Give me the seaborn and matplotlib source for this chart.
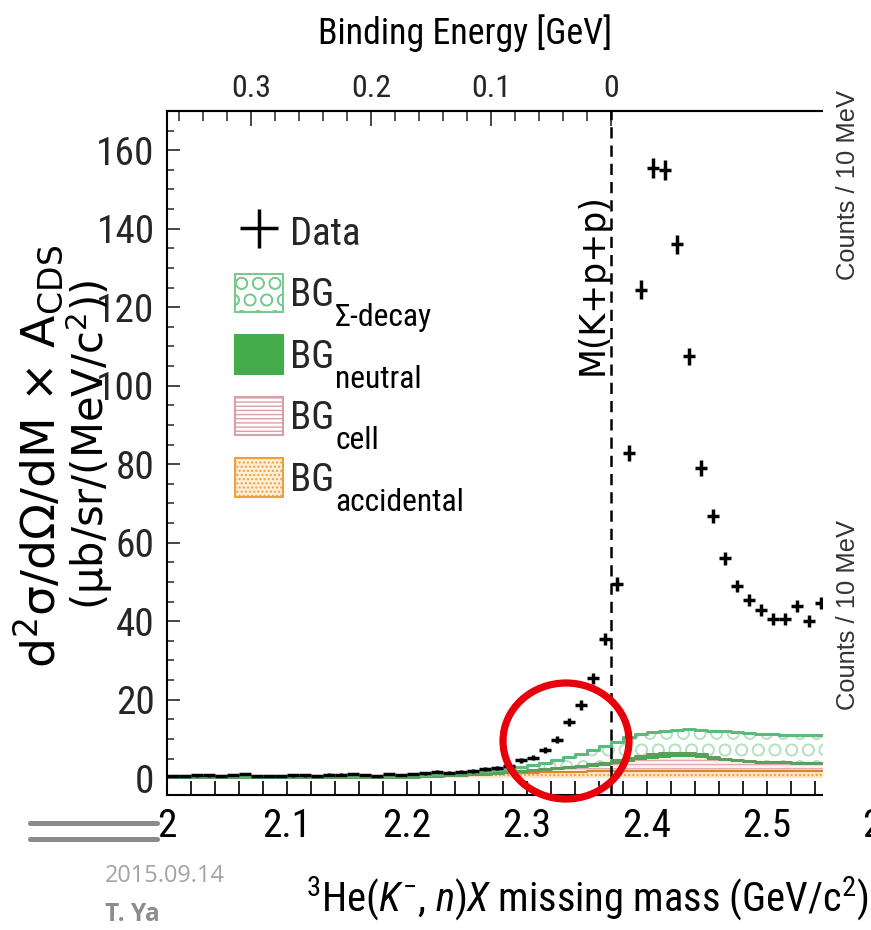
import numpy as np
import pandas as pd
import seaborn as sns
import matplotlib
matplotlib.use("Agg")
import matplotlib.pyplot as plt
from matplotlib.patches import Patch, Ellipse, Rectangle
from matplotlib.lines import Line2D
from matplotlib.ticker import MultipleLocator, FixedLocator, FuncFormatter
from matplotlib import font_manager
from matplotlib.font_manager import FontEntry

# ---------------- data ----------------
mass_low = 2.0
bin_width = 0.01
n_bins = 55
threshold_mass = 2.370  # M(K+p+p)

data_values = [0.6, 0.5, 0.7, 0.7, 0.6, 0.8, 1.1, 0.5, 0.6, 0.6,
               0.7, 0.7, 0.6, 0.9, 0.9, 1.0, 0.8, 0.6, 1.0, 0.8,
               1.0, 1.2, 1.6, 1.4, 1.6, 1.8, 2.3, 2.5, 3.0, 4.5,
               5.2, 7.2, 9.8, 14.2, 18.6, 25.5, 35.5, 49.4, 82.8, 124.5,
               155.5, 155.0, 136.0, 107.5, 79.0, 66.8, 56.0, 49.0, 45.4, 42.8,
               40.5, 40.5, 43.8, 40.0, 44.6]
data_errors = [0.3] * 20 + [0.3, 0.35, 0.35, 0.35, 0.4, 0.4, 0.45, 0.5, 0.5, 0.6,
                            0.7, 0.8, 0.9, 1.0, 1.2, 1.4, 1.6, 1.8, 2.1, 2.4,
                            2.6, 2.6, 2.5, 2.2, 2.0, 1.8, 1.7, 1.6, 1.6, 1.5,
                            1.5, 1.5, 1.5, 1.5, 1.5]
# stacked tops of the background components
acc_top = [0.3] * 20 + [0.4, 0.5, 0.6, 0.7, 0.8, 0.9, 1.0, 1.1, 1.2, 1.3,
                        1.4, 1.5, 1.5, 1.6, 1.6, 1.7, 1.7, 1.8, 1.8, 1.8] + [1.9] * 15
cell_top = [0.3] * 20 + [0.4, 0.5, 0.6, 0.7, 0.8, 0.9, 1.0, 1.2, 1.4, 1.6,
                         1.8, 2.0, 2.1, 2.4, 2.6, 2.9, 3.2, 3.7, 4.2, 4.6,
                         5.0, 5.2, 5.3, 5.3, 5.1, 4.7, 4.3, 4.0, 3.8, 3.7,
                         3.6, 3.6, 3.5, 3.5, 3.5]
neutral_top = [0.3] * 20 + [0.4, 0.5, 0.6, 0.7, 0.8, 1.0, 1.15, 1.4, 1.65, 1.9,
                            2.15, 2.4, 2.55, 2.9, 3.15, 3.5, 3.9, 4.5, 5.2, 5.7,
                            6.2, 6.4, 6.5, 6.4, 6.1, 5.5, 4.9, 4.5, 4.25, 4.1,
                            4.1, 4.0, 3.9, 3.9, 3.9]
sigma_top = [0.45] * 20 + [0.8, 0.9, 1.0, 1.1, 1.3, 1.5, 1.8, 2.1, 2.4, 2.8,
                           3.3, 3.9, 4.6, 5.4, 6.2, 7.1, 8.2, 9.3, 10.6, 11.3,
                           11.8, 12.1, 12.3, 12.4, 12.3, 12.1, 11.9, 11.7, 11.5, 11.3,
                           11.2, 11.1, 11.0, 11.0, 10.9]

legend_labels = ["Data", "BG", "BG", "BG", "BG"]
legend_subscripts = ["", "Σ-decay", "neutral", "cell", "accidental"]

bin_centers = mass_low + bin_width * (np.arange(n_bins) + 0.5)
bin_edges = mass_low + bin_width * np.arange(n_bins + 1)

df = pd.DataFrame({"mass": bin_centers, "data": data_values, "err": data_errors,
                   "acc": acc_top, "cell": cell_top, "neutral": neutral_top,
                   "sigma": sigma_top})

# ---------------- fonts ----------------
sns.set_theme(style="white")
prefs = [("liberationsansnarrow-regular", "liberationsansnarrow-italic"),
         ("arialnarrow", "arialnarrowitalic"),
         ("robotocondensed-regular", "robotocondensed-italic"),
         ("notosans-condensed.", "notosans-condenseditalic."),
         ("notosans-condensed-regular", "notosans-condensed-italic"),
         ("opensans-condensed", "opensans-condenseditalic"),
         ("notosans-semicondensed.", "notosans-semicondenseditalic.")]
allfonts = font_manager.fontManager.ttflist
chosen_reg, chosen_it = None, None
for rk, ik in prefs:
    regs = [f for f in allfonts if rk in f.fname.lower().replace(" ", "")]
    if regs:
        chosen_reg = regs[0].fname
        its = [f for f in allfonts if ik in f.fname.lower().replace(" ", "")]
        chosen_it = its[0].fname if its else None
        break
if chosen_reg is None:
    conds = [f for f in allfonts if f.style == "normal" and
             f.stretch in ("condensed", "semi-condensed") and
             f.weight in (400, "normal", "regular")]
    if conds:
        chosen_reg = conds[0].fname
if chosen_reg is not None:
    allfonts.append(FontEntry(fname=chosen_reg, name="CondSans", style="normal",
                              variant="normal", weight=400, stretch="normal",
                              size="scalable"))
    if chosen_it is not None:
        allfonts.append(FontEntry(fname=chosen_it, name="CondSans", style="italic",
                                  variant="normal", weight=400, stretch="normal",
                                  size="scalable"))
    base = "CondSans"
else:
    base = "Liberation Sans"

plt.rcParams["font.family"] = [base, "Liberation Sans", "DejaVu Sans"]
plt.rcParams["mathtext.fontset"] = "custom"
plt.rcParams["mathtext.rm"] = base
plt.rcParams["mathtext.it"] = base + ":italic"
plt.rcParams["mathtext.bf"] = base + ":bold"
plt.rcParams["mathtext.sf"] = base
plt.rcParams["mathtext.default"] = "regular"
plt.rcParams["hatch.linewidth"] = 1.0

W, H = 871, 930
fig = plt.figure(figsize=(W / 100, H / 100), dpi=100)
fig.patch.set_facecolor("white")
renderer = fig.canvas.get_renderer()


def size_for(s, target_px, along="w", **kw):
    t = fig.text(0, 0, s, fontsize=30, **kw)
    bb = t.get_window_extent(renderer)
    t.remove()
    cur = bb.width if along == "w" else bb.height
    return 30 * target_px / cur


def fp(xpx, ypx):
    return xpx / W, 1 - ypx / H


ax = fig.add_axes([167 / W, 135 / H, 720 / W, 684 / H])
ax.set_facecolor("white")


def stepv(v):
    a = np.asarray(v, dtype=float)
    return np.append(a, a[-1])


zero = np.zeros(n_bins)
ax.fill_between(bin_edges, stepv(zero), stepv(df["acc"]), step="post",
                facecolor="#fde6c4", edgecolor="#eea03c", hatch="....", lw=0, zorder=1)
ax.fill_between(bin_edges, stepv(df["acc"]), stepv(df["cell"]), step="post",
                facecolor="#fff1f1", edgecolor="#e2a9b1", hatch="----", lw=0, zorder=1)
ax.fill_between(bin_edges, stepv(df["cell"]), stepv(df["neutral"]), step="post",
                facecolor="#46ab4a", edgecolor="#46ab4a", lw=0, zorder=1)
ax.fill_between(bin_edges, stepv(df["neutral"]), stepv(df["sigma"]), step="post",
                facecolor="white", edgecolor="#b5e2c2", hatch="O", lw=0, zorder=1)

sns.lineplot(x=bin_edges, y=stepv(df["acc"]), drawstyle="steps-post", ax=ax,
             color="#d9862c", lw=1.5, zorder=2)
sns.lineplot(x=bin_edges, y=stepv(df["neutral"]), drawstyle="steps-post", ax=ax,
             color="#5a9f5e", lw=2.2, zorder=2)
sns.lineplot(x=bin_edges, y=stepv(df["sigma"]), drawstyle="steps-post", ax=ax,
             color="#5cbb7c", lw=2.2, zorder=2)

h_data = ax.errorbar(df["mass"], df["data"], xerr=bin_width / 2, yerr=df["err"],
                     fmt="none", ecolor="black", elinewidth=2.5, capsize=0, zorder=5)

ax.axvline(threshold_mass, color="black", lw=1.8, ls=(0, (4.5, 2.8)), zorder=4)
mk_size = 0.93 * size_for("M(K+p+p)", 207, family="DejaVu Sans")
ax.text(threshold_mass - 0.0155, 126, "M(K+p+p)", rotation=90, ha="center", va="center",
        fontsize=min(mk_size, 25), family="DejaVu Sans", color="black", zorder=6)

ax.set_xlim(2.0, 2.6)
ax.set_ylim(-4.3, 170)
ax.set_xlabel("")
ax.set_ylabel("")
ax.xaxis.set_major_locator(MultipleLocator(0.1))
ax.xaxis.set_minor_locator(MultipleLocator(0.02))
ax.yaxis.set_major_locator(MultipleLocator(20))
ax.yaxis.set_minor_locator(MultipleLocator(5))
ax.xaxis.set_major_formatter(FuncFormatter(lambda v, p: f"{v:g}"))
ax.tick_params(axis="x", which="both", direction="in", length=10, width=1.2,
               labelsize=size_for("2.3", 49), pad=9, bottom=True, top=False,
               colors="black")
ax.tick_params(axis="y", which="major", direction="in", length=9.5, width=1.2,
               labelsize=size_for("160", 58), pad=9, left=True, right=False)
ax.tick_params(axis="y", which="minor", direction="in", length=5, width=1.1,
               left=True, right=False)
for s in ["left", "bottom", "top"]:
    ax.spines[s].set_color("black")
    ax.spines[s].set_linewidth(1.5)
ax.spines["right"].set_visible(False)

secax = ax.secondary_xaxis("top", functions=(lambda m: threshold_mass - m,
                                              lambda b: threshold_mass - b))
be_ticks = [0, 0.1, 0.2, 0.3]
secax.xaxis.set_major_locator(FixedLocator(be_ticks))
secax.xaxis.set_major_formatter(FuncFormatter(lambda v, p: f"{v:g}"))
secax.xaxis.set_minor_locator(FixedLocator(np.round(np.arange(0, 0.37, 0.02), 3)))
secax.tick_params(axis="x", which="major", direction="in", length=11, width=1.2,
                  labelsize=size_for("0.3", 40), pad=6)
secax.tick_params(axis="x", which="minor", direction="in", length=7.5, width=1.1)
secax.spines["top"].set_linewidth(1.5)

fig.text(*fp(465, 33), "Binding Energy [GeV]", ha="center", va="center",
         fontsize=size_for("Binding Energy [GeV]", 294), color="black")
xl = r"$^{3}$He($\mathit{K}^{-}$, $\mathit{n}$)$\mathit{X}$ missing mass (GeV/c$^{2}$)"
fig.text(*fp(869, 912), xl, ha="right", va="baseline",
         fontsize=size_for(xl, 562), color="black")
yl1 = r"d$^{2}$σ/dΩ/dM × A$_{CDS}$"
yl2 = r"(μb/sr/(MeV/c$^{2}$))"
fig.text(*fp(38, 456), yl1, rotation=90, ha="center", va="center",
         fontsize=min(34, 0.92 * size_for(yl1, 465, family="DejaVu Sans")),
         family="DejaVu Sans", color="black")
fig.text(*fp(89, 445), yl2, rotation=90, ha="center", va="center",
         fontsize=min(30, 0.88 * size_for(yl2, 420, family="DejaVu Sans")),
         family="DejaVu Sans", color="black")

# legend
leg_fs = size_for("Data", 71)
unit = leg_fs * 100 / 72
handles = [h_data,
           Patch(facecolor="white", edgecolor="#79c990", hatch="O", lw=1.5),
           Patch(facecolor="#46ab4a", edgecolor="#46ab4a", lw=1.5),
           Patch(facecolor="white", edgecolor="#d9a0a8", hatch="----", lw=1.5),
           Patch(facecolor="#fdeed6", edgecolor="#eea03c", hatch="....", lw=1.5)]
leg = ax.legend(handles, legend_labels, loc="upper left",
                bbox_to_anchor=fp(235, 212), bbox_transform=fig.transFigure,
                frameon=False, fontsize=leg_fs, handlelength=48 / unit,
                handleheight=45 / unit, handletextpad=7 / unit,
                labelspacing=21 / unit, borderpad=0, borderaxespad=0)
fig.canvas.draw()
sub_fs = size_for("neutral", 87)
_, _, lp_d = renderer.get_text_width_height_descent(
    "lp", leg.get_texts()[1].get_fontproperties(), ismath=False)
inv = fig.transFigure.inverted()
for t, sub in zip(leg.get_texts(), legend_subscripts):
    if not sub:
        continue
    bb = t.get_window_extent(renderer)
    baseline = bb.y0 + lp_d
    fig.text(*inv.transform((bb.x1 + 1, baseline + 3)), sub, ha="left", va="top",
             fontsize=sub_fs, color="black", zorder=6)

# slide overlay elements
fig.add_artist(Rectangle((823 / W, 130 / H), (W - 823) / W, 1 - 130 / H,
                         transform=fig.transFigure, facecolor="white",
                         edgecolor="none", zorder=5))
cnt_fs = size_for("Counts / 10 MeV", 190, family="Liberation Sans")
fig.text(*fp(848, 185), "Counts / 10 MeV", rotation=90, ha="center",
         va="center", fontsize=cnt_fs, family="Liberation Sans", color="#333333", zorder=6)
fig.text(*fp(848, 615), "Counts / 10 MeV", rotation=90, ha="center",
         va="center", fontsize=cnt_fs, family="Liberation Sans", color="#333333", zorder=6)
fig.add_artist(Ellipse(fp(566, 741), 126 / W, 116 / H,
                       transform=fig.transFigure, facecolor="none",
                       edgecolor="#e8000b", lw=5.2, zorder=7))
for ypx in (823, 839):
    fig.add_artist(Line2D([30 / W, 157 / W], [1 - ypx / H] * 2,
                          transform=fig.transFigure, color="#8a8a8a", lw=3.6, zorder=6))
fig.text(*fp(105, 876), "2015.09.14", ha="left", va="center",
         fontsize=size_for("2015.09.14", 120, family="Open Sans"),
         family="Open Sans", color="#a3a3a3", zorder=6)
fig.text(*fp(105, 914), "T. Ya", ha="left", va="center",
         fontsize=size_for("T. Ya", 55, family="Open Sans", fontweight="bold"),
         family="Open Sans", fontweight="bold", color="#8c8c8c", zorder=6)

fig.savefig("out.png", dpi=100, facecolor="white")
